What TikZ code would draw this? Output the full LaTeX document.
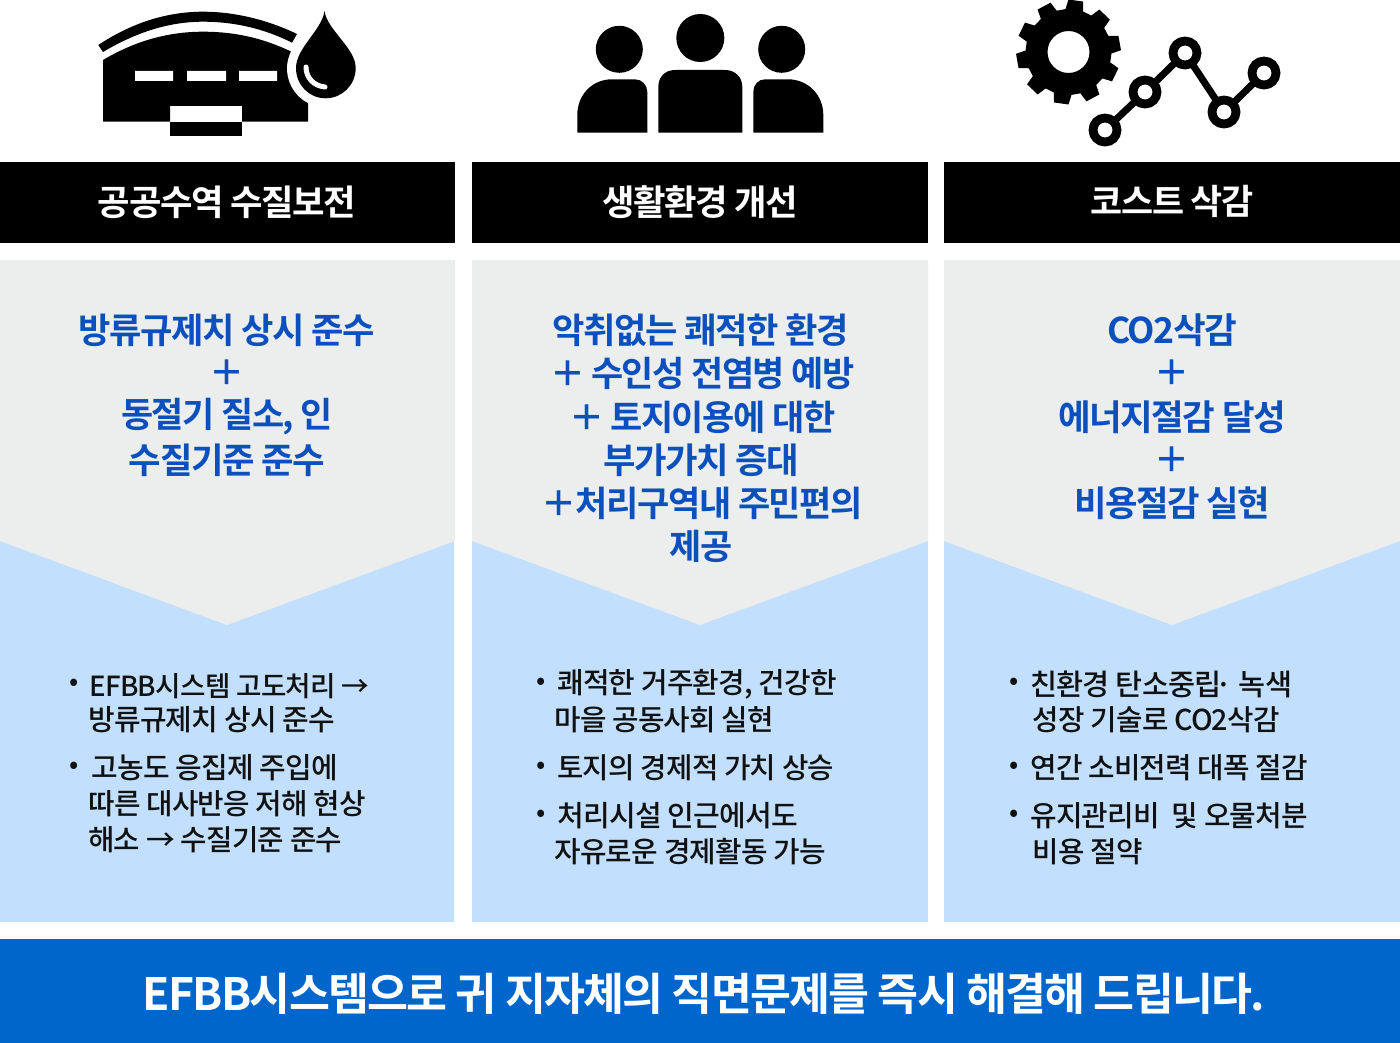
\documentclass[tikz,border=0pt]{standalone}
\usepackage{fontspec}
\newfontfamily\krb[LetterSpace=-4]{Noto Sans CJK KR Bold}
\newfontfamily\krm[LetterSpace=-2.5]{Noto Sans CJK KR Medium}
\definecolor{panelgray}{HTML}{ECEEEE}
\definecolor{panelblue}{HTML}{C2DFFE}
\definecolor{headblue}{HTML}{0B50BC}
\definecolor{footblue}{HTML}{0066CC}
\definecolor{bodyink}{HTML}{111111}
\tikzset{
  bartext/.style={text=white,font=\krb\fontsize{35}{35}\selectfont,inner sep=0pt,anchor=center},
  bluetext/.style={text=headblue,font=\krb\fontsize{35}{35}\selectfont,inner sep=0pt,anchor=center},
  bodytext/.style={text=bodyink,font=\krm\fontsize{30}{30}\selectfont,inner sep=0pt,anchor=west},
  bulletmark/.style={text=bodyink,font=\krm\fontsize{26}{26}\selectfont,inner sep=0pt,anchor=center},
  foottext/.style={text=white,font=\krb\fontsize{47}{47}\selectfont,inner sep=0pt,anchor=center},
  ring/.style={draw=black,line width=8.8pt,fill=white},
  link/.style={draw=black,line width=7pt},
}
\newcommand{\fitw}[2]{\resizebox{#1pt}{!}{#2}}
\begin{document}
\begin{tikzpicture}[x=1pt,y=-1pt]
\useasboundingbox (0,0) rectangle (1400,1043);
\fill[white] (0,0) rectangle (1400,1043);
% columns
\foreach \l/\r/\m/\e in {0/455/227/454,472/928/700/928,944/1400/1172/1400}{
  \fill[black] (\l,162) rectangle (\r,243);
  \fill[panelblue] (\l,260) rectangle (\e,922);
  \fill[panelgray] (\l,260) -- (\r,260) -- (\r,541) -- (\m,625) -- (\l,541) -- cycle;
}
\fill[footblue] (0,939) rectangle (1400,1043);
% icon 1
\fill[black] (98.3,45) .. controls (130,24) and (165,11.7) .. (203,11.7) .. controls (235,11.7) and (268,20) .. (297,34) -- (292,42.7) .. controls (265,29) and (235,21.7) .. (203,21.7) .. controls (168,21.7) and (135,33) .. (103,52) -- cycle;
\fill[black] (103,60) .. controls (135,41) and (168,31.7) .. (203,31.7) .. controls (235,31.7) and (263,38) .. (292,52) -- (308,60) -- (308,121.7) -- (242,121.7) -- (242,106) -- (170,106) -- (170,121.7) -- (103,121.7) -- cycle;
\fill[black] (170,121.7) rectangle (242,135.7);
\fill[white] (135,71) rectangle (173,81) (187,71) rectangle (226,81) (239,71) rectangle (277,81);
\path[fill=black,draw=white,line width=18pt,line join=round] (324.5,11) .. controls (327,30) and (355.7,48) .. (355.7,68) .. controls (355.7,85) and (342,98.3) .. (325.7,98.3) .. controls (309,98.3) and (296,85) .. (296,68) .. controls (296,48) and (322,30) .. (324.5,11) -- cycle;
\fill[black] (324.5,11) .. controls (327,30) and (355.7,48) .. (355.7,68) .. controls (355.7,85) and (342,98.3) .. (325.7,98.3) .. controls (309,98.3) and (296,85) .. (296,68) .. controls (296,48) and (322,30) .. (324.5,11) -- cycle;
\draw[white,line width=5pt,line cap=round] (306,67) .. controls (306,78) and (314,86) .. (325,87);
% icon 2
\fill[black] (619.3,49.3) circle (23.5) (700.3,38) circle (24) (781.7,49.3) circle (23.5);
\fill[black] (577.3,132.7) -- (577.3,115) .. controls (577.3,95) and (592,79.3) .. (612,79.3) -- (635,79.3) .. controls (642,79.3) and (647.3,85) .. (647.3,92) -- (647.3,132.7) -- cycle;
\fill[black] (658.3,132.7) -- (658.3,87) .. controls (658.3,77) and (665,70) .. (675,70) -- (725,70) .. controls (735,70) and (742.3,77) .. (742.3,87) -- (742.3,132.7) -- cycle;
\fill[black] (823.3,132.7) -- (823.3,115) .. controls (823.3,95) and (808,79.3) .. (788,79.3) -- (765,79.3) .. controls (758,79.3) and (753.3,85) .. (753.3,92) -- (753.3,132.7) -- cycle;
% icon 3 gear
\begin{scope}[shift={(1068.5,52)}]
\path[fill=black,even odd rule,line join=round]
  (86:43)
  \foreach \a in {98,134,170,206,242,278,314,350,386,422}{
    -- ({\a-12}:43) -- ({\a-8}:52.5) -- ({\a+8}:52.5) -- ({\a+12}:43) -- ({\a+24}:43)
  } -- cycle
  (0,0) circle (21);
\end{scope}
% chart
\coordinate (p1) at (1105,130);
\coordinate (p2) at (1145,92);
\coordinate (p3) at (1185,53);
\coordinate (p4) at (1224,112);
\coordinate (p5) at (1264,73);
\draw[link] (p1) -- (p2) -- (p3) -- (p4) -- (p5);
\foreach \p in {p1,p2,p3,p4,p5}{\draw[ring] (\p) circle (12);}
% bar titles
\node[bartext] (t1) at (227,202) {\fitw{258}{공공수역 수질보전}};
\node[bartext] (t2) at (700,202) {\fitw{196}{생활환경 개선}};
\node[bartext] (t3) at (1172,201) {\fitw{163}{코스트 삭감}};
% blue col 1
\node[bluetext] (a1) at (227,330) {\fitw{296}{방류규제치 상시 준수}};
\node[bluetext] (a2) at (227,373) {＋};
\node[bluetext] (a3) at (227,417) {\fitw{212}{동절기 질소, 인}};
\node[bluetext] (a4) at (227,460) {\fitw{196}{수질기준 준수}};
% blue col 2
\node[bluetext] (b1) at (701,330) {\fitw{296}{악취없는 쾌적한 환경}};
\node[bluetext] (b2) at (702.5,373) {\fitw{304}{＋\kern-1pt{} 수인성 전염병 예방}};
\node[bluetext] (b3) at (702.5,417) {\fitw{266}{＋\kern-1pt{} 토지이용에 대한}};
\node[bluetext] (b4) at (701,460) {\fitw{196}{부가가치 증대}};
\node[bluetext] (b5) at (702.5,503) {\fitw{321}{＋처리구역내 주민편의}};
\node[bluetext] (b6) at (701,546) {\fitw{63}{제공}};
% blue col 3
\node[bluetext] (c1) at (1172,330) {\fitw{130}{CO2삭감}};
\node[bluetext] (c2) at (1172,373) {＋};
\node[bluetext] (c3) at (1172,417) {\fitw{228}{에너지절감 달성}};
\node[bluetext] (c4) at (1172,460) {＋};
\node[bluetext] (c5) at (1172,503) {\fitw{196}{비용절감 실현}};
% bullets
\node[bulletmark] (k1) at (74,685) {•};
\node[bulletmark] (k2) at (74,768) {•};
\node[bulletmark] (k3) at (541,684) {•};
\node[bulletmark] (k4) at (541,768) {•};
\node[bulletmark] (k5) at (541,816) {•};
\node[bulletmark] (k6) at (1014,684) {•};
\node[bulletmark] (k7) at (1014,768) {•};
\node[bulletmark] (k8) at (1014,816) {•};
% body col 1
\node[bodytext] (d1) at (89,686) {\fitw{280}{EFBB시스템 고도처리 →}};
\node[bodytext] (d2) at (88,720) {\fitw{247}{방류규제치 상시 준수}};
\node[bodytext] (d3) at (91,768) {\fitw{247}{고농도 응집제 주입에}};
\node[bodytext] (d4) at (88,804) {\fitw{278}{따른 대사반응 저해 현상}};
\node[bodytext] (d5) at (88,840) {\fitw{254}{해소 → 수질기준 준수}};
% body col 2
\node[bodytext] (e1) at (557,684) {\fitw{280}{쾌적한 거주환경, 건강한}};
\node[bodytext] (e2) at (554,720) {\fitw{220}{마을 공동사회 실현}};
\node[bodytext] (e3) at (557,768) {\fitw{277}{토지의 경제적 가치 상승}};
\node[bodytext] (e4) at (557,816) {\fitw{241}{처리시설 인근에서도}};
\node[bodytext] (e5) at (554,852) {\fitw{272}{자유로운 경제활동 가능}};
% body col 3
\node[bodytext] (f1) at (1030,684) {\fitw{262}{친환경 탄소중립\kern-7pt·\kern-5pt\ \ 녹색}};
\node[bodytext] (f2) at (1032.5,720) {\fitw{247}{성장 기술로 CO2삭감}};
\node[bodytext] (f3) at (1030,768) {\fitw{278}{연간 소비전력 대폭 절감}};
\node[bodytext] (f4) at (1030,816) {\fitw{278}{유지관리비\ \ 및 오물처분}};
\node[bodytext] (f5) at (1032.5,852) {\fitw{110}{비용 절약}};
% footer
\node[foottext] (g) at (704,994) {\fitw{1122}{EFBB시스템으로 귀 지자체의 직면문제를 즉시 해결해 드립니다.}};
\end{tikzpicture}
\end{document}
